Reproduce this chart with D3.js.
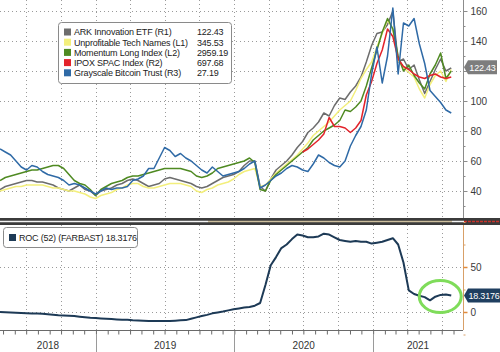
<!DOCTYPE html>
<html lang="en">
<head>
<meta charset="utf-8">
<title>ARK, unprofitable tech, momentum, SPACs and GBTC</title>
<script src="https://cdn.jsdelivr.net/npm/d3@7"></script>
<style>
  body { margin: 0; background: #fff; }
  text { font-family: "Liberation Sans", Arial, sans-serif; }
</style>
</head>
<body>
<svg id="chart" width="500" height="352"></svg>
<script>
// Values, one point every two weeks from 23 Apr 2018.
// All price series are given in the units of the visible right axis.
var startDate = new Date(2018, 3, 23);
var stepDays = 14;

var ark = [
  41, 43, 44, 45, 46, 47, 47, 46, 46, 45,
  44, 42, 41, 40, 42, 44, 41, 40, 37, 40,
  41, 42, 44, 45, 47, 48, 47, 45, 43, 44,
  45, 48, 49, 48, 47, 46, 45, 43, 42, 43,
  45, 47, 49, 50, 51, 53, 57, 60, 60, 43,
  40, 48, 54, 57, 60, 64, 69, 73, 79, 82,
  86, 92, 90, 97, 102, 101, 106, 110, 116, 126,
  137, 145, 146, 151, 160, 126, 128, 121, 124, 114,
  105, 113, 121, 128, 120, 122
];
var unprofitable = [
  40, 41, 42, 43, 43, 44, 44, 44, 44, 43,
  42, 42, 41, 40, 40, 39, 38, 36, 35, 37,
  38, 39, 41, 42, 44, 45, 45, 43, 42, 42,
  43, 44, 45, 45, 45, 44, 43, 40, 39, 41,
  42, 44, 45, 46, 48, 51, 53, 54, 55, 43,
  44, 48, 52, 55, 58, 61, 64, 68, 72, 77,
  80, 83, 86, 90, 94, 97, 100, 107, 115, 121,
  126, 136, 145, 154, 148, 127, 122, 119, 116, 108,
  102, 111, 117, 120, 113, 121
];
var momentum = [
  47, 49, 50, 51, 52, 53, 54, 54, 55, 56,
  57, 57, 55, 51, 47, 45, 44, 41, 37, 41,
  43, 45, 46, 47, 49, 50, 50, 51, 52, 53,
  54, 55, 55, 55, 55, 54, 53, 50, 49, 50,
  52, 55, 56, 57, 58, 59, 60, 62, 59, 41,
  40, 47, 51, 54, 57, 60, 63, 66, 69, 74,
  77, 80, 82, 84, 87, 94, 93, 96, 100, 110,
  122, 134, 146, 155, 148, 130, 120, 124, 117, 112,
  108, 118, 124, 132, 115, 120
];
// the SPAC index only shows from point 57 on
var spacStart = 57;
var spac = [
  66, 68, 71, 74, 78, 89, 83, 83, 82, 79,
  82, 87, 104, 113, 125, 134, 148, 143, 128, 123,
  121, 118, 116, 115, 117, 118, 116, 115, 116
];
var gbtc = [
  68, 66, 64, 60, 56, 54, 57, 56, 53, 51,
  50, 49, 47, 44, 45, 44, 42, 40, 38, 40,
  42, 41, 42, 42, 43, 47, 48, 50, 55, 55,
  62, 69, 67, 63, 65, 62, 60, 57, 54, 52,
  56, 53, 50, 51, 52, 53, 55, 58, 60, 42,
  44, 47, 50, 52, 55, 57, 56, 54, 53, 58,
  64, 62, 59, 57, 56, 60, 70, 77, 83, 94,
  118, 136, 112, 130, 162, 118, 152, 150, 155, 138,
  125, 107, 103, 99, 94, 92
];
var roc = [
  0, -0.3, -0.5, -0.8, -1.2, -1.5, -1.7, -1.8, -2, -2.5,
  -3, -3.5, -3.8, -4.2, -4.5, -5.2, -5.8, -6.5, -6.8, -7.2,
  -7.5, -7.8, -8.2, -8.5, -8.6, -9.2, -9.5, -9.8, -10, -10,
  -10.1, -10, -10, -9.6, -9.3, -9, -7.5, -6, -4.5, -3.2,
  -1.5, -0.5, 0.5, 1.8, 3, 4, 5, 5.5, 7, 10,
  30, 52, 61, 71, 75, 81, 86, 85, 83, 83,
  84, 87, 86, 83, 80, 79, 78, 79, 78, 78,
  76, 77, 78, 80, 82, 75, 55, 24, 20, 18,
  16.5, 13, 17, 19, 19.5, 18.3176
];

var legendNames = ["ARK Innovation ETF (R1)", "Unprofitable Tech Names (L1)", "Momentum Long Index (L2)",
                   "IPOX SPAC Index (R2)", "Grayscale Bitcoin Trust (R3)"];
var legendValues = ["122.43", "345.53", "2959.19", "697.68", "27.19"];
var colors = ["#6d6d6d", "#f3ef7c", "#4f8a22", "#e3232b", "#2f6aa6"];
var rightTicks = [40, 60, 80, 100, 120, 140, 160];
var rocTicks = [0, 50];
var rocLabel = "ROC (52) (FARBAST) 18.3176";
var lastArk = "122.43";
var lastRoc = "18.3176";

var svg = d3.select("#chart");
var W = 500, plotRight = 463;

var x = d3.scaleTime()
    .domain([new Date(2018, 3, 23), new Date(2021, 7, 26)])
    .range([0, plotRight]);
var yTop = d3.scaleLinear().domain([40, 160]).range([191, 11]);
var yBot = d3.scaleLinear().domain([0, 50]).range([312, 267]);

function dateAt(i) { return d3.timeDay.offset(startDate, i * stepDays); }

// Clip paths for the two panels
var defs = svg.append("defs");
defs.append("clipPath").attr("id", "clipTop")
  .append("rect").attr("x", 0).attr("y", 0).attr("width", plotRight).attr("height", 218);
defs.append("clipPath").attr("id", "clipBot")
  .append("rect").attr("x", 0).attr("y", 225).attr("width", plotRight).attr("height", 105);

// Gridlines
var quarters = d3.timeMonth.every(3).range(x.domain()[0], x.domain()[1]);
var grid = svg.append("g").attr("stroke", "#9a9a9a").attr("stroke-dasharray", "1,3");
grid.selectAll(".vt").data(quarters).enter().append("line")
  .attr("x1", function(d) { return Math.round(x(d)) + 0.5; })
  .attr("x2", function(d) { return Math.round(x(d)) + 0.5; })
  .attr("y1", 0).attr("y2", 218);
grid.selectAll(".vb").data(quarters).enter().append("line")
  .attr("x1", function(d) { return Math.round(x(d)) + 0.5; })
  .attr("x2", function(d) { return Math.round(x(d)) + 0.5; })
  .attr("y1", 225).attr("y2", 330);
grid.selectAll(".ht").data(rightTicks).enter().append("line")
  .attr("x1", 0).attr("x2", plotRight)
  .attr("y1", function(d) { return Math.round(yTop(d)) + 0.5; })
  .attr("y2", function(d) { return Math.round(yTop(d)) + 0.5; });
grid.selectAll(".hb").data(rocTicks).enter().append("line")
  .attr("x1", 0).attr("x2", plotRight)
  .attr("y1", function(d) { return Math.round(yBot(d)) + 0.5; })
  .attr("y2", function(d) { return Math.round(yBot(d)) + 0.5; });

// Price lines
var series = [
  { values: ark, start: 0, color: colors[0] },
  { values: unprofitable, start: 0, color: colors[1] },
  { values: momentum, start: 0, color: colors[2] },
  { values: spac, start: spacStart, color: colors[3] },
  { values: gbtc, start: 0, color: colors[4] }
];
var lineTop = d3.line()
  .x(function(d) { return x(d.date); })
  .y(function(d) { return yTop(d.v); });

var lines = svg.append("g").attr("clip-path", "url(#clipTop)");
series.forEach(function(s) {
  var pts = s.values.map(function(v, i) { return { date: dateAt(s.start + i), v: v }; });
  lines.append("path")
    .datum(pts)
    .attr("d", lineTop)
    .attr("fill", "none")
    .attr("stroke", s.color)
    .attr("stroke-width", 1.5)
    .attr("stroke-linejoin", "round");
});

// ROC line
var lineBot = d3.line()
  .x(function(d, i) { return x(dateAt(i)); })
  .y(function(d) { return yBot(d); });
svg.append("g").attr("clip-path", "url(#clipBot)")
  .append("path")
  .datum(roc)
  .attr("d", lineBot)
  .attr("fill", "none")
  .attr("stroke", "#1d3a56")
  .attr("stroke-width", 2)
  .attr("stroke-linejoin", "round");

// Green circle around the latest ROC reading
var lastI = roc.length - 1;
svg.append("ellipse")
  .attr("cx", x(dateAt(lastI)) - 11)
  .attr("cy", yBot(roc[lastI]) + 1)
  .attr("rx", 21).attr("ry", 16)
  .attr("fill", "none")
  .attr("stroke", "#7fdc5a")
  .attr("stroke-width", 3);

// Divider between panels
svg.append("rect").attr("x", 0).attr("y", 218).attr("width", W).attr("height", 7).attr("fill", "#3b3b3b");
svg.append("line").attr("x1", 0).attr("x2", 208).attr("y1", 221.5).attr("y2", 221.5)
  .attr("stroke", "#f4f4f4").attr("stroke-width", 1.5);
svg.append("line").attr("x1", 208).attr("x2", 452).attr("y1", 221.5).attr("y2", 221.5)
  .attr("stroke", "#cdbf9e").attr("stroke-width", 1.5);
svg.append("line").attr("x1", 452).attr("x2", 464).attr("y1", 221.5).attr("y2", 221.5)
  .attr("stroke", "#f4f4f4").attr("stroke-width", 1.5);
svg.append("line").attr("x1", 464).attr("x2", W).attr("y1", 221.5).attr("y2", 221.5)
  .attr("stroke", "#c8332b").attr("stroke-width", 1.5).attr("stroke-dasharray", "3,1");

// Right axis, top panel (the 120 label sits under the ARK tag)
var axTop = svg.append("g")
  .attr("transform", "translate(" + (plotRight + 0.5) + ",0)")
  .call(d3.axisRight(yTop).tickValues(rightTicks).tickSize(4).tickPadding(3)
    .tickFormat(function(d) { return d === 120 ? "" : d; }));
axTop.select(".domain").attr("d", "M0,0V218").attr("stroke", "#8c8c8c");
axTop.selectAll(".tick line").attr("stroke", "#8c8c8c");
axTop.selectAll(".tick text").attr("fill", "#3a3a3a").style("font-size", "10px");
svg.append("g")
  .attr("transform", "translate(" + (plotRight + 0.5) + ",0)")
  .call(d3.axisRight(yTop).tickValues([30, 50, 70, 90, 110, 130, 150]).tickSize(2).tickFormat(""))
  .call(function(g) { g.select(".domain").remove(); g.selectAll("line").attr("stroke", "#8c8c8c"); });

// Right axis, bottom panel
var axBot = svg.append("g")
  .attr("transform", "translate(" + (plotRight + 0.5) + ",0)")
  .call(d3.axisRight(yBot).tickValues(rocTicks).tickSize(4).tickPadding(3));
axBot.select(".domain").attr("d", "M0,225V330").attr("stroke", "#d8a068");
axBot.selectAll(".tick line").attr("stroke", "#e08a3c").attr("stroke-width", 1.5);
axBot.selectAll(".tick text").attr("fill", "#3a3a3a").style("font-size", "10px");
svg.append("g")
  .attr("transform", "translate(" + (plotRight + 0.5) + ",0)")
  .call(d3.axisRight(yBot).tickValues([-25, 25, 75, 100]).tickSize(2).tickFormat(""))
  .call(function(g) { g.select(".domain").remove(); g.selectAll("line").attr("stroke", "#d8a068"); });

// Value tags on the right axis
function tag(yc, label, fill, x0, x1) {
  var g = svg.append("g");
  g.append("path")
    .attr("d", "M" + x0 + "," + yc + "L" + (x0 + 4) + "," + (yc - 7) +
               "H" + x1 + "V" + (yc + 7) + "H" + (x0 + 4) + "Z")
    .attr("fill", fill);
  g.append("text").attr("x", (x0 + 4 + x1) / 2).attr("y", yc + 3.3).attr("text-anchor", "middle")
    .attr("fill", "#fff").style("font-size", "9px").style("letter-spacing", "-0.2px").text(label);
}
tag(yTop(+lastArk), lastArk, "#7d7d7d", 464, 497);
tag(yBot(+lastRoc), lastRoc, "#1f3f60", 464, 500);

// Bottom time axis
var axX = svg.append("g")
  .attr("transform", "translate(0,330.5)")
  .call(d3.axisBottom(x).ticks(d3.timeMonth.every(1)).tickSize(4).tickFormat(""));
axX.select(".domain").attr("d", "M0,0H" + plotRight).attr("stroke", "#6a6a6a");
axX.selectAll(".tick line").attr("stroke", "#6a6a6a");

var years = d3.timeYear.range(new Date(2018, 0, 1), new Date(2022, 0, 1));
years.forEach(function(yr) {
  var a = Math.max(0, x(yr));
  var b = Math.min(plotRight, x(d3.timeYear.offset(yr, 1)));
  if (x(yr) > 0) {
    svg.append("line").attr("x1", Math.round(a) + 0.5).attr("x2", Math.round(a) + 0.5)
      .attr("y1", 334).attr("y2", 352).attr("stroke", "#9a9a9a");
  }
  svg.append("text").attr("x", (a + b) / 2).attr("y", 349).attr("text-anchor", "middle")
    .attr("fill", "#333").style("font-size", "10px").text(yr.getFullYear());
});

// Legend, top panel
var leg = svg.append("g").style("font-size", "9px").style("letter-spacing", "-0.2px");
leg.append("rect").attr("x", 58.5).attr("y", 22.5).attr("width", 173).attr("height", 61)
  .attr("rx", 3).attr("fill", "#fff").attr("stroke", "#8a8a8a");
legendNames.forEach(function(name, i) {
  var yy = 32 + i * 10.2;
  leg.append("rect").attr("x", 64).attr("y", yy - 3.5).attr("width", 7).attr("height", 7)
    .attr("fill", colors[i]);
  leg.append("text").attr("x", 74).attr("y", yy + 3.3).attr("fill", "#222").text(name);
  leg.append("text").attr("x", 197).attr("y", yy + 3.3).attr("fill", "#222").text(legendValues[i]);
});

// Legend, bottom panel
var leg2 = svg.append("g").style("font-size", "9px").style("letter-spacing", "-0.2px");
leg2.append("rect").attr("x", 3.5).attr("y", 227.5).attr("width", 134).attr("height", 20)
  .attr("rx", 3).attr("fill", "#fff").attr("stroke", "#8a8a8a");
leg2.append("rect").attr("x", 9).attr("y", 234).attr("width", 7).attr("height", 7).attr("fill", "#1d3a56");
leg2.append("text").attr("x", 19).attr("y", 241).attr("fill", "#222").text(rocLabel);
</script>
</body>
</html>
